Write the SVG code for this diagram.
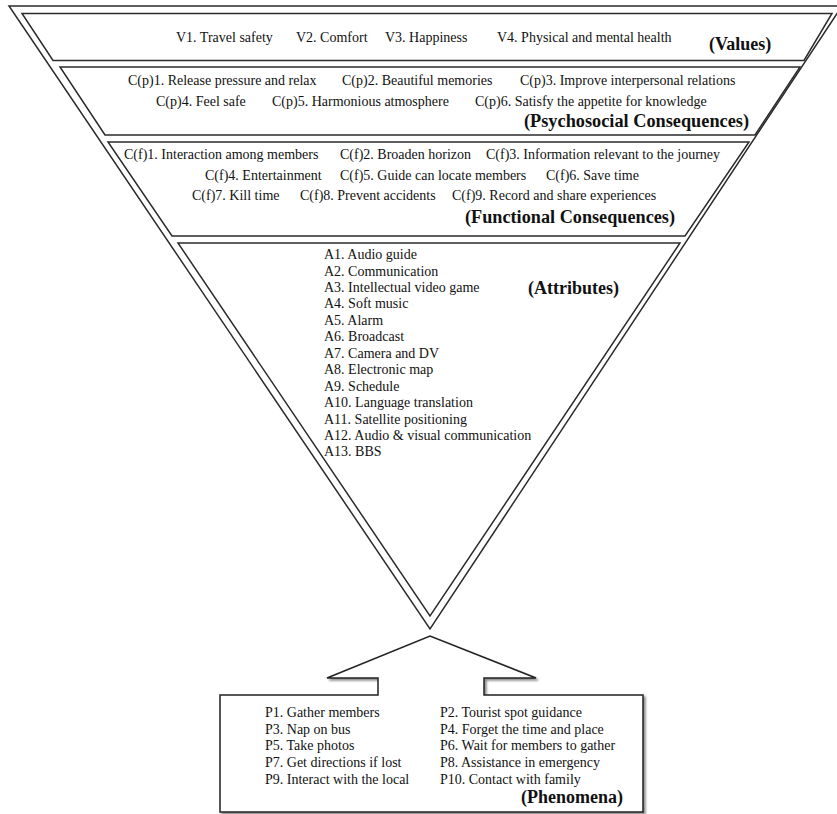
<svg xmlns="http://www.w3.org/2000/svg" width="837" height="814" viewBox="0 0 837 814">
<defs>
<style>
.band{fill:#fff;stroke:#2b2b2b;stroke-width:1.5;stroke-linejoin:miter}
.frame{fill:none;stroke:#2b2b2b;stroke-width:1.5}
.t{font-family:"Liberation Serif","Times New Roman",serif;font-size:14px;fill:#111}
.h{font-family:"Liberation Serif","Times New Roman",serif;font-size:18px;font-weight:bold;fill:#111}
</style>
<filter id="sh" x="-5%" y="-5%" width="115%" height="120%">
<feDropShadow dx="2" dy="2" stdDeviation="1.2" flood-color="#000" flood-opacity="0.45"/>
</filter>
</defs>
<rect width="837" height="814" fill="#fff"/>
<g id="frame">
<polygon class="frame" points="9,6 842,6 430,629"/>
</g>
<g id="values">
<polygon class="band" points="22,13.5 832,13.5 804,60.5 53,60.5"/>
<text class="t" x="176" y="41.5">V1. Travel safety</text>
<text class="t" x="296" y="41.5">V2. Comfort</text>
<text class="t" x="385" y="41.5">V3. Happiness</text>
<text class="t" x="497" y="41.5">V4. Physical and mental health</text>
<text class="h" x="709" y="49.5">(Values)</text>
</g>
<g id="psychosocial">
<polygon class="band" points="60,67 800,67 755,135 105,135"/>
<text class="t" x="128" y="84.5">C(p)1. Release pressure and relax</text>
<text class="t" x="342" y="84.5">C(p)2. Beautiful memories</text>
<text class="t" x="520" y="84.5">C(p)3. Improve interpersonal relations</text>
<text class="t" x="156" y="105.5">C(p)4. Feel safe</text>
<text class="t" x="272" y="105.5">C(p)5. Harmonious atmosphere</text>
<text class="t" x="475" y="105.5">C(p)6. Satisfy the appetite for knowledge</text>
<text class="h" x="524" y="126.5" textLength="225" lengthAdjust="spacingAndGlyphs">(Psychosocial Consequences)</text>
</g>
<g id="functional">
<polygon class="band" points="108,142 749,142 685,236 172,236"/>
<text class="t" x="124" y="159">C(f)1. Interaction among members</text>
<text class="t" x="340" y="159">C(f)2. Broaden horizon</text>
<text class="t" x="486" y="159">C(f)3. Information relevant to the journey</text>
<text class="t" x="205" y="179.5">C(f)4. Entertainment</text>
<text class="t" x="340" y="179.5">C(f)5. Guide can locate members</text>
<text class="t" x="546" y="179.5">C(f)6. Save time</text>
<text class="t" x="192" y="200">C(f)7. Kill time</text>
<text class="t" x="300" y="200">C(f)8. Prevent accidents</text>
<text class="t" x="452" y="200">C(f)9. Record and share experiences</text>
<text class="h" x="465" y="223" textLength="210" lengthAdjust="spacingAndGlyphs">(Functional Consequences)</text>
</g>
<g id="attributes">
<polygon class="band" points="178,243 680,243 430,616"/>
<text class="t" x="324" y="259">A1. Audio guide</text>
<text class="t" x="324" y="275.5">A2. Communication</text>
<text class="t" x="324" y="292">A3. Intellectual video game</text>
<text class="t" x="324" y="308.4">A4. Soft music</text>
<text class="t" x="324" y="324.8">A5. Alarm</text>
<text class="t" x="324" y="341.3">A6. Broadcast</text>
<text class="t" x="324" y="357.7">A7. Camera and DV</text>
<text class="t" x="324" y="374.2">A8. Electronic map</text>
<text class="t" x="324" y="390.6">A9. Schedule</text>
<text class="t" x="324" y="407">A10. Language translation</text>
<text class="t" x="324" y="423.5">A11. Satellite positioning</text>
<text class="t" x="324" y="439.9">A12. Audio &amp; visual communication</text>
<text class="t" x="324" y="456.4">A13. BBS</text>
<text class="h" x="528" y="293.5">(Attributes)</text>
</g>
<g id="phenomena">
<path d="M220,695 L378,695 L378,678 L327,678 L430,636 L536,678 L484,678 L484,695 L643,695 L643,812 L220,812 Z" fill="#fff" stroke="#222" stroke-width="1.5" stroke-linejoin="miter" filter="url(#sh)"/>
<text class="t" x="265" y="717">P1. Gather members</text>
<text class="t" x="265" y="733.7">P3. Nap on bus</text>
<text class="t" x="265" y="750.3">P5. Take photos</text>
<text class="t" x="265" y="767">P7. Get directions if lost</text>
<text class="t" x="265" y="783.7">P9. Interact with the local</text>
<text class="t" x="440" y="717">P2. Tourist spot guidance</text>
<text class="t" x="440" y="733.7">P4. Forget the time and place</text>
<text class="t" x="440" y="750.3">P6. Wait for members to gather</text>
<text class="t" x="440" y="767">P8. Assistance in emergency</text>
<text class="t" x="440" y="783.7">P10. Contact with family</text>
<text class="h" x="521" y="803">(Phenomena)</text>
</g>
</svg>
